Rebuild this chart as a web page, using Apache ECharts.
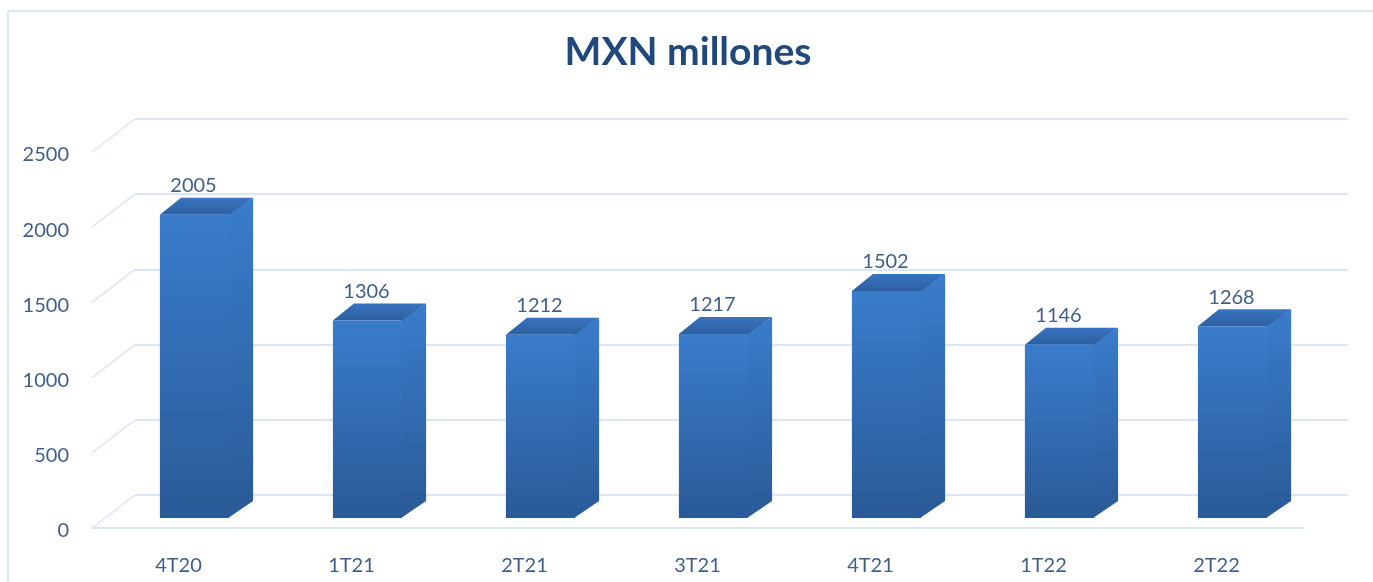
<!DOCTYPE html>
<html>
<head>
<meta charset="utf-8">
<title>MXN millones</title>
<script src="https://cdn.jsdelivr.net/npm/echarts@6/dist/echarts.min.js"></script>
<style>
  html, body { margin: 0; padding: 0; background: #fff; }
  #chart { width: 1373px; height: 582px; filter: blur(0.5px); }
</style>
</head>
<body>
<div id="chart"></div>
<script>
const categories = ['4T20', '1T21', '2T21', '3T21', '4T21', '1T22', '2T22'];
const values = [2005, 1306, 1212, 1217, 1502, 1146, 1268];
const yTicks = [0, 500, 1000, 1500, 2000, 2500];

const lineColor = '#dbe6f6';
const textColor = '#3f5f8a';
const fontName = 'Lato';

// depth of the fake 3d box, in pixels
const depthX = 24;
const depthY = 17;

const myChart = echarts.init(document.getElementById('chart'));

function vGrad(top, bottom) {
  return new echarts.graphic.LinearGradient(0, 0, 0, 1, [
    { offset: 0, color: top },
    { offset: 1, color: bottom },
  ]);
}

// one box: front, side, top and the value above it
function renderBar(params, api) {
  const top = api.coord([api.value(0), api.value(1)]);
  const bottom = api.coord([api.value(0), 0]);
  const w = api.size([1, 0])[0] * 0.4;
  const x1 = top[0] - w / 2;
  const x2 = top[0] + w / 2;
  const y1 = top[1];
  const y2 = bottom[1];

  return {
    type: 'group',
    children: [
      {
        type: 'polygon',
        // starts 1px inside the front so no seam shows
        shape: { points: [[x2 - 1, y1], [x2 + depthX, y1 - depthY], [x2 + depthX, y2 - depthY], [x2 - 1, y2]] },
        style: { fill: vGrad('#3a7ccb', '#2a5a97') },
      },
      {
        type: 'polygon',
        shape: { points: [[x1, y1], [x1 + depthX - 3, y1 - depthY], [x2 + depthX, y1 - depthY], [x2, y1]] },
        style: { fill: vGrad('#3874c2', '#2d5f9f') },
      },
      {
        type: 'rect',
        shape: { x: x1, y: y1, width: w, height: y2 - y1 },
        style: { fill: vGrad('#3a7ccb', '#2a5a97') },
      },
      {
        type: 'text',
        style: {
          x: top[0] - 1,
          y: y1 - 29,
          text: String(api.value(1)),
          fill: textColor,
          font: '20px ' + fontName,
          align: 'center',
          verticalAlign: 'middle',
        },
      },
    ],
  };
}

// slanted floor/wall lines going from the front axis to the back grid lines
function renderSlant(params, api) {
  const x = params.coordSys.x;
  const y = api.coord([0, api.value(0)])[1];
  return {
    type: 'line',
    shape: { x1: x, y1: y, x2: x + 43, y2: y - 33 },
    style: { stroke: lineColor, lineWidth: 1.5 },
  };
}

const hiddenX = {
  type: 'category',
  data: categories,
  show: false,
};

myChart.setOption({
  animation: false,
  backgroundColor: '#fff',
  title: {
    text: 'MXN millones',
    left: 683,
    top: 28,
    textAlign: 'center',
    textStyle: { color: '#1f497d', fontSize: 39, fontWeight: 'bold', fontFamily: fontName },
  },
  // outer frame of the picture
  graphic: [
    { type: 'line', shape: { x1: 8, y1: 11, x2: 1373, y2: 11 }, style: { stroke: lineColor, lineWidth: 2 } },
    { type: 'line', shape: { x1: 8, y1: 11, x2: 8, y2: 582 }, style: { stroke: lineColor, lineWidth: 2 } },
  ],
  grid: [
    // front plane: axis labels and front floor line
    { left: 92, width: 1211, top: 152, height: 376 },
    // back plane: grid lines
    { left: 135, width: 1213, top: 119, height: 376 },
    // plane of the bars
    { left: 108, width: 1211, top: 140, height: 378 },
  ],
  xAxis: [
    {
      type: 'category',
      data: categories,
      gridIndex: 0,
      axisLine: { lineStyle: { color: lineColor, width: 2 } },
      axisTick: { show: false },
      axisLabel: { color: textColor, fontSize: 20, fontFamily: fontName, margin: 28 },
    },
    Object.assign({ gridIndex: 1 }, hiddenX),
    Object.assign({ gridIndex: 2 }, hiddenX),
  ],
  yAxis: [
    {
      type: 'value',
      gridIndex: 0,
      min: 0,
      max: 2500,
      interval: 500,
      axisLine: { show: false },
      axisTick: { show: false },
      splitLine: { show: false },
      axisLabel: {
        color: textColor,
        fontSize: 20,
        fontFamily: fontName,
        margin: 23,
        // nudges the labels about 3px under their tick
        verticalAlign: 'top',
        lineHeight: 6,
        formatter: (v) => String(v),
      },
    },
    {
      type: 'value',
      gridIndex: 1,
      min: 0,
      max: 2500,
      interval: 500,
      axisLine: { show: false },
      axisTick: { show: false },
      axisLabel: { show: false },
      splitLine: { lineStyle: { color: lineColor, width: 2 } },
    },
    {
      type: 'value',
      gridIndex: 2,
      min: 0,
      max: 2500,
      interval: 500,
      show: false,
    },
  ],
  series: [
    {
      type: 'custom',
      name: 'slants',
      xAxisIndex: 0,
      yAxisIndex: 0,
      silent: true,
      renderItem: renderSlant,
      data: yTicks.map((t) => [t]),
      encode: { y: 0 },
      z: 1,
    },
    {
      type: 'custom',
      name: 'MXN millones',
      xAxisIndex: 2,
      yAxisIndex: 2,
      renderItem: renderBar,
      data: values.map((v, i) => [categories[i], v]),
      encode: { x: 0, y: 1 },
      z: 3,
    },
  ],
});
</script>
</body>
</html>
